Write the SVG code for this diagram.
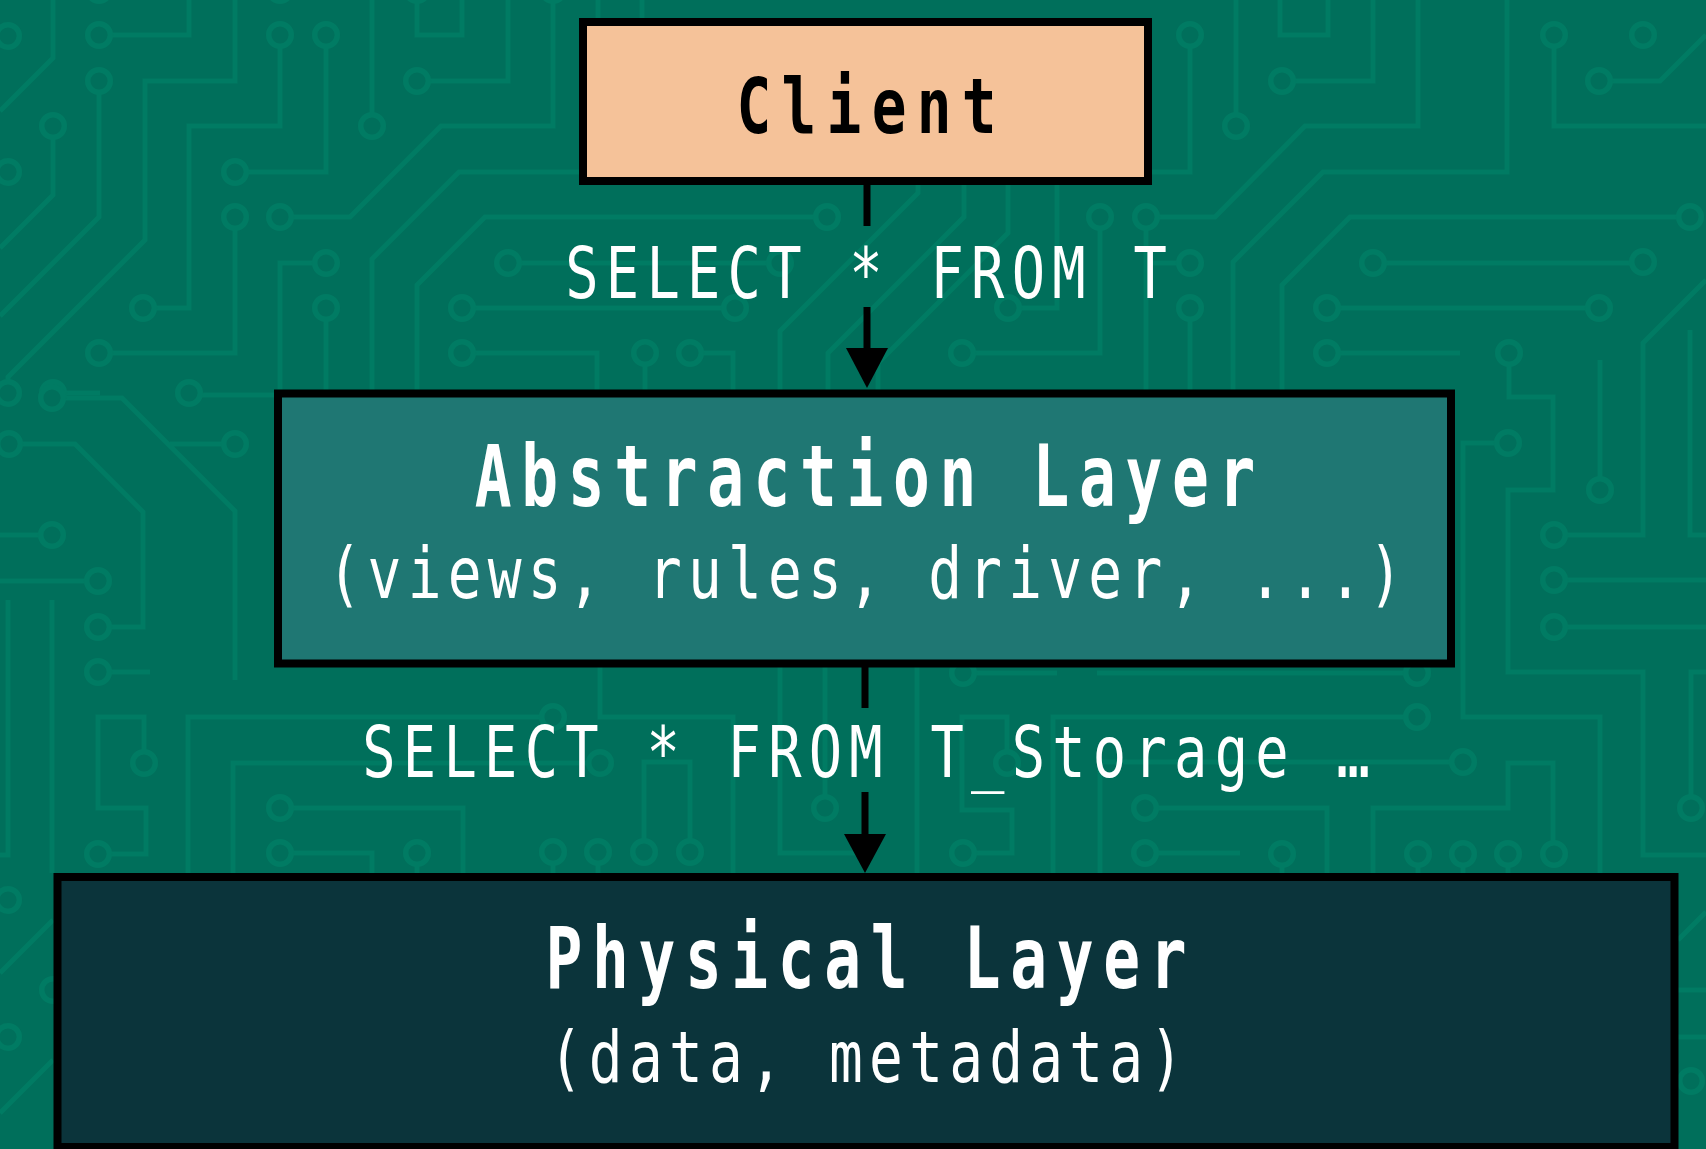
<svg xmlns="http://www.w3.org/2000/svg" xmlns:xlink="http://www.w3.org/1999/xlink" width="1706" height="1149" viewBox="0 0 1706 1149">
<style>
.tr{fill:none;stroke:#007B63;stroke-width:5;stroke-linejoin:miter}
.rg{fill:#006F5B;stroke:#007B63;stroke-width:5.5}
.box{stroke:#000;stroke-width:8}
.t{font-family:'DejaVu Sans Mono','Liberation Mono',monospace;text-anchor:middle}
.w{fill:#FFFFFF}
.ar{stroke:#000;stroke-width:7;fill:none}
</style>
<defs>
<circle id="r" r="11.3" class="rg"/>
</defs>
<g id="background">
<rect x="0" y="0" width="1706" height="1149" fill="#006F5B"/>
<path class="tr" d="M53,0 V58 L0,111 M99,35 H189 V0 M99,81 V217 L0,316 M53,126 V195 L0,248 M235,0 V81 H145 V240 L8,377 V393 M280,35 V126 H189 V308 H143 M326,35 V172 H235 M372,0 V126 M417,81 H508 V0 M417,0 V35 H462 V0 M553,0 V126 H441 L350,217 H280 M235,217 V353 H99 M600,172 H459 L372,259 V400 M827,217 H485 L417,285 V400 M326,263 H280 V400 M326,308 V400 M508,263 H780 M462,308 H735 M462,353 H597 V400 M189,395 H280 M53,393 H100"/>
<path class="tr" d="M918,185 V193 L780,331 V400 M964,185 V217 L828,353 V400 M1008,185 V233 L878,363 V400 M645,353 V400 M690,353 H733 V400 M1100,217 V353 H962 M1057,185 V308 H1008 M598,0 V20 M642,0 V20"/>
<path class="tr" d="M1190,35 V172 H1150 M1236,0 V126 M1280,0 V35 H1328 V0 M1282,81 H1373 V0 M1418,0 V126 H1305 L1215,217 H1146 M1146,217 V400 M1190,263 H1150 M1190,308 V400 M1373,263 H1643 M1327,308 H1599 M1327,353 H1460 M1507,0 V172 H1323 L1233,262 V400 M1690,217 H1350 L1282,285 V400 M1554,35 V126 H1706 M1599,81 H1660 L1706,35 M1509,353 V397 H1553 V490 H1508 V672 H1643 V855 H1706 M1706,280 L1643,343 V535 H1554 M1508,443 H1463 V717 H1600 V873 M1600,490 V360 M1554,580 H1706 M1554,627 H1706 M1690,330 V535 H1706 M1706,672 H1691 V808"/>
<path class="tr" d="M1417,717 H1053 V873 M1463,762 H1100 V873 M1417,673 H1097 M963,673 H1057 M1373,873 V808 H1508 V763 H1553 V854 M1145,808 H1327 V873 M1145,853 H1240 M1282,854 V873 M1418,854 V873 M1463,854 V873 M1508,854 V873 M780,667 V853 H870 M825,667 V808 M600,667 V717 H733 V873 M553,717 H188 V873 M600,763 H233 V873 M280,808 H463 V873 M280,853 H372 V873 M417,853 V873 M917,667 V873 M1007,763 V717 H962 V810 H1012 V853 H963 M644,852 V762 H690 V852 M553,852 V873 M598,852 V873"/>
<path class="tr" d="M52,398 H122 L235,511 V680 M9,444 H75 L143,512 V627 H98 M52,535 H0 M98,581 H0 M98,672 H150 M235,444 H170 M8,600 V855 H0 M52,600 V873 M144,763 V717 H98 V808 H146 V854 H98 M53,920 L0,973 M53,1060 L0,1113 M1678,990 H1706 M1678,1037 H1706 M1678,940 L1706,912"/>
<g>
<use href="#r" x="8" y="36"/><use href="#r" x="99" y="35"/><use href="#r" x="280" y="35"/><use href="#r" x="326" y="35"/><use href="#r" x="417" y="81"/><use href="#r" x="99" y="81"/><use href="#r" x="53" y="126"/><use href="#r" x="372" y="126"/><use href="#r" x="8" y="172"/><use href="#r" x="235" y="172"/><use href="#r" x="235" y="217"/><use href="#r" x="280" y="217"/><use href="#r" x="326" y="263"/><use href="#r" x="508" y="263"/><use href="#r" x="143" y="308"/><use href="#r" x="326" y="308"/><use href="#r" x="462" y="308"/><use href="#r" x="99" y="353"/><use href="#r" x="462" y="353"/><use href="#r" x="8" y="393"/><use href="#r" x="53" y="393"/><use href="#r" x="189" y="393"/>
<use href="#r" x="99" y="-10"/><use href="#r" x="280" y="-10"/><use href="#r" x="417" y="-10"/><use href="#r" x="553" y="-10"/>
<use href="#r" x="827" y="217"/><use href="#r" x="780" y="263"/><use href="#r" x="735" y="308"/><use href="#r" x="645" y="353"/><use href="#r" x="690" y="353"/><use href="#r" x="962" y="353"/><use href="#r" x="1100" y="217"/><use href="#r" x="1146" y="217"/><use href="#r" x="1008" y="308"/>
<use href="#r" x="1190" y="35"/><use href="#r" x="1236" y="126"/><use href="#r" x="1282" y="81"/><use href="#r" x="1190" y="263"/><use href="#r" x="1190" y="308"/><use href="#r" x="1373" y="263"/><use href="#r" x="1327" y="308"/><use href="#r" x="1327" y="353"/><use href="#r" x="1643" y="262"/><use href="#r" x="1599" y="308"/><use href="#r" x="1509" y="353"/><use href="#r" x="1554" y="35"/><use href="#r" x="1643" y="35"/><use href="#r" x="1599" y="81"/><use href="#r" x="1690" y="217"/>
<use href="#r" x="1508" y="443"/><use href="#r" x="1600" y="490"/><use href="#r" x="1554" y="535"/><use href="#r" x="1554" y="580"/><use href="#r" x="1554" y="627"/><use href="#r" x="1417" y="673"/><use href="#r" x="1417" y="717"/><use href="#r" x="1463" y="762"/>
<use href="#r" x="963" y="673"/><use href="#r" x="825" y="808"/><use href="#r" x="1007" y="763"/><use href="#r" x="963" y="853"/><use href="#r" x="1145" y="808"/><use href="#r" x="1145" y="853"/><use href="#r" x="1282" y="854"/><use href="#r" x="1418" y="854"/><use href="#r" x="1463" y="854"/><use href="#r" x="1508" y="854"/><use href="#r" x="1554" y="854"/><use href="#r" x="1691" y="808"/>
<use href="#r" x="553" y="717"/><use href="#r" x="600" y="763"/><use href="#r" x="280" y="808"/><use href="#r" x="280" y="853"/><use href="#r" x="417" y="853"/><use href="#r" x="553" y="852"/><use href="#r" x="598" y="852"/><use href="#r" x="644" y="852"/><use href="#r" x="690" y="852"/><use href="#r" x="144" y="763"/><use href="#r" x="98" y="854"/>
<use href="#r" x="52" y="398"/><use href="#r" x="9" y="444"/><use href="#r" x="235" y="444"/><use href="#r" x="52" y="535"/><use href="#r" x="98" y="581"/><use href="#r" x="98" y="627"/><use href="#r" x="98" y="672"/>
<use href="#r" x="8" y="900"/><use href="#r" x="8" y="1037"/><use href="#r" x="53" y="990"/><use href="#r" x="1691" y="1081"/>
</g>
</g>
<g id="connectors">
<line class="ar" x1="867" y1="185" x2="867" y2="226"/>
<line class="ar" x1="867" y1="307" x2="867" y2="350"/>
<polygon points="846,348 888,348 867,388" fill="#000"/>
<text class="t w" font-size="71" letter-spacing="9.3" transform="translate(866 297.7) scale(0.78 1)" x="4.65" y="0">SELECT * FROM T</text>
<line class="ar" x1="865" y1="667" x2="865" y2="708"/>
<line class="ar" x1="865" y1="792" x2="865" y2="836"/>
<polygon points="844,834 886,834 865,873" fill="#000"/>
<text class="t w" font-size="71" letter-spacing="9.3" transform="translate(866 776.5) scale(0.78 1)" x="4.65" y="0">SELECT * FROM T_Storage …</text>
</g>
<g id="client">
<rect class="box" x="583" y="22" width="565" height="159" fill="#F5C299"/>
<text class="t" font-weight="bold" font-size="76" letter-spacing="13.5" transform="translate(866.5 133) scale(0.76 1)" x="6.75" y="0" fill="#000">Client</text>
</g>
<g id="abstraction">
<rect class="box" x="278" y="393.5" width="1173" height="270" fill="#1F7773"/>
<text class="t w" font-weight="bold" font-size="85" letter-spacing="13.4" transform="translate(865 506) scale(0.72 1)" x="6.7" y="0">Abstraction Layer</text>
<text class="t w" font-size="72" letter-spacing="8" transform="translate(865 598.3) scale(0.78 1)" x="4" y="0">(views, rules, driver, ...)</text>
</g>
<g id="physical">
<rect class="box" x="57.5" y="877" width="1617" height="270" fill="#0B343B"/>
<text class="t w" font-weight="bold" font-size="85" letter-spacing="13.4" transform="translate(866 988.3) scale(0.72 1)" x="6.7" y="0">Physical Layer</text>
<text class="t w" font-size="72" letter-spacing="8" transform="translate(866 1081.7) scale(0.78 1)" x="4" y="0">(data, metadata)</text>
</g>
</svg>
